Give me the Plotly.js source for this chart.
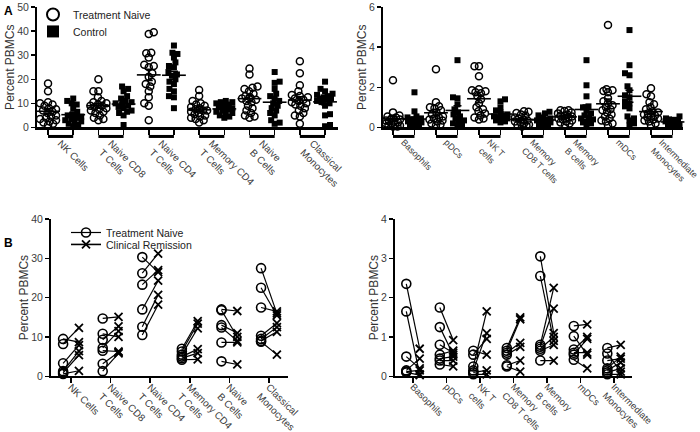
<!DOCTYPE html>
<html>
<head>
<meta charset="utf-8">
<script src="https://cdn.plot.ly/plotly-3.0.1.min.js"></script>
<style>
  html, body { margin: 0; padding: 0; background: #fff; }
  #chart { width: 700px; height: 432px; }
</style>
</head>
<body>
<div id="chart"></div>
<script>
// ---------- Panel A, left: major PBMC populations (% of PBMCs) ----------
const majorCells = ['NK Cells', 'Naive CD8<br>T Cells', 'Naive CD4<br>T Cells',
  'Memory CD4<br>T Cells', 'Naive<br>B Cells', 'Classical<br>Monocytes'];
const majorNaive = [
  [18.2, 15, 10.5, 10, 9.5, 9, 8, 7.5, 7, 6.5, 6, 5, 4.5, 4, 3.5, 3, 2.5, 2, 1.5, 1],
  [20, 15, 15, 12.5, 11, 10.5, 10, 9.5, 9, 9, 8.5, 8, 7.5, 7, 6.5, 6, 5, 4, 3.5, 3],
  [39.5, 38.8, 31, 30.8, 29, 26, 25.5, 25, 22.5, 21, 19, 18, 17, 15, 12.5, 10, 9, 3],
  [15.5, 13, 11, 10, 9.5, 9, 8.5, 8, 7.5, 7, 7, 6.5, 6, 5.5, 5, 4.5, 4, 3.5, 3, 2],
  [24.5, 22, 17, 16.5, 16, 15, 14, 13, 12.5, 12, 11.5, 11, 10.5, 9, 8, 7, 6, 5, 4.5, 4],
  [27.5, 22.5, 17.5, 15, 13.5, 13, 12.5, 12, 11.5, 11, 10.5, 10, 9.5, 9, 8, 7, 6, 5, 4.5, 1.5]
];
const majorControl = [
  [12, 11, 10, 9.5, 8, 6.5, 5.5, 5, 4.5, 4, 3.5, 3, 2.5, 2, 1.5, 1, 0.5],
  [17, 16, 15, 13, 12, 11, 10.5, 10, 9.5, 9, 8.5, 8, 7, 6.5, 6, 5, 1],
  [34, 31, 30.5, 29, 27, 25.5, 25, 23, 22, 21.5, 20, 19, 18, 16, 15, 13, 12.5, 8],
  [11, 10.5, 10.5, 10, 9.5, 9, 8.5, 8, 7.5, 7, 6.5, 6, 5.5, 5, 4.5, 4],
  [23, 19, 18.5, 16, 14, 13, 12, 11, 10, 9, 8, 7, 6, 5, 3, 2, 1.5],
  [19, 16, 15, 14, 13.5, 13, 12.5, 12, 12, 11.5, 11, 10.5, 10, 9, 5.5, 5, 1, 0.5]
];

// ---------- Panel A, right: minor PBMC populations ----------
const minorCells = ['Basophils', 'pDCs', 'NK T<br>cells', 'Memory<br>CD8 T cells',
  'Memory<br>B cells', 'mDCs', 'Intermediate<br>Monocytes'];
const minorNaive = [
  [2.35, 0.75, 0.6, 0.55, 0.5, 0.45, 0.4, 0.35, 0.3, 0.3, 0.25, 0.2, 0.2, 0.15, 0.1, 0.1, 0.05, 0.05],
  [2.9, 1.25, 1.05, 1.0, 0.95, 0.85, 0.75, 0.65, 0.55, 0.5, 0.45, 0.4, 0.35, 0.3, 0.2, 0.15, 0.1],
  [3.05, 3.05, 2.55, 1.9, 1.85, 1.8, 1.75, 1.7, 1.55, 1.4, 1.2, 1.0, 0.9, 0.8, 0.7, 0.6, 0.5, 0.45, 0.4],
  [0.8, 0.78, 0.72, 0.65, 0.6, 0.5, 0.45, 0.4, 0.35, 0.3, 0.25, 0.2, 0.15, 0.12, 0.08, 0.05],
  [0.85, 0.85, 0.82, 0.75, 0.7, 0.65, 0.6, 0.58, 0.55, 0.5, 0.45, 0.4, 0.35, 0.3, 0.25, 0.2, 0.15],
  [5.1, 1.9, 1.85, 1.82, 1.75, 1.45, 1.3, 1.2, 1.1, 1.0, 0.9, 0.85, 0.75, 0.65, 0.55, 0.45, 0.35, 0.3, 0.2, 0.1],
  [1.95, 1.65, 1.55, 1.25, 1.15, 1.0, 0.9, 0.8, 0.75, 0.7, 0.65, 0.6, 0.55, 0.5, 0.45, 0.4, 0.35, 0.3, 0.2, 0.1]
];
const minorControl = [
  [1.75, 0.8, 0.55, 0.5, 0.45, 0.4, 0.35, 0.3, 0.3, 0.25, 0.2, 0.15, 0.1, 0.1, 0.05],
  [3.35, 1.5, 1.45, 1.15, 0.9, 0.75, 0.65, 0.55, 0.45, 0.35, 0.3, 0.2, 0.15, 0.1],
  [1.4, 1.3, 1.0, 0.85, 0.75, 0.65, 0.6, 0.55, 0.5, 0.45, 0.4, 0.35, 0.3, 0.25],
  [0.78, 0.7, 0.6, 0.5, 0.45, 0.4, 0.35, 0.3, 0.25, 0.2, 0.15, 0.1, 0.05],
  [3.35, 2.1, 1.55, 1.05, 1.0, 0.85, 0.7, 0.6, 0.5, 0.45, 0.4, 0.3, 0.25, 0.2, 0.1],
  [4.85, 3.1, 2.7, 2.6, 2.05, 1.85, 1.6, 1.5, 1.3, 1.2, 1.05, 0.95, 0.55, 0.45, 0.35, 0.2, 0.1],
  [0.55, 0.45, 0.4, 0.38, 0.35, 0.3, 0.25, 0.2, 0.15, 0.12, 0.08, 0.05]
];

// ---------- Panel B: paired samples, treatment naive -> clinical remission ----------
const pairedMajorNaive = [
  [9.5, 8.2, 3.3, 1.3, 0.9, 0.6],
  [14.7, 10.8, 9.3, 7.2, 6.5, 3.2, 1.3],
  [30.3, 26.2, 23.3, 17.0, 12.6, 10.5],
  [7.0, 6.3, 5.5, 5.0, 4.6, 4.2],
  [17.0, 16.8, 13.0, 12.4, 8.6, 3.8],
  [27.5, 22.5, 17.5, 10.3, 9.5, 9.0, 8.8]
];
const pairedMajorRemission = [
  [8.7, 12.3, 7.9, 6.4, 5.4, 1.4],
  [15.1, 10.0, 12.7, 11.5, 6.3, 6.1, 5.8],
  [26.5, 31.2, 27.0, 24.3, 20.7, 18.2],
  [14.0, 13.4, 12.2, 6.9, 5.9, 4.3],
  [16.6, 10.0, 11.0, 9.0, 8.6, 3.0],
  [16.0, 15.5, 16.5, 13.5, 12.5, 11.3, 5.5]
];
const pairedMinorNaive = [
  [2.35, 1.65, 0.5, 0.15, 0.12, 0.1],
  [1.75, 1.25, 0.8, 0.55, 0.45, 0.4, 0.3],
  [0.65, 0.55, 0.25, 0.15, 0.1, 0.05],
  [0.72, 0.65, 0.6, 0.55, 0.28, 0.25],
  [3.05, 2.55, 0.8, 0.75, 0.7, 0.65, 0.4],
  [1.28, 1.02, 0.68, 0.6, 0.55, 0.42],
  [0.72, 0.58, 0.4, 0.2, 0.15, 0.1, 0.05]
];
const pairedMinorRemission = [
  [0.7, 0.05, 0.2, 0.45, 0.15, 0.03],
  [0.92, 0.55, 0.6, 0.65, 0.5, 0.4, 0.25],
  [0.55, 0.95, 1.65, 1.1, 0.15, 0.05],
  [1.5, 1.45, 0.85, 0.75, 0.4, 0.12],
  [1.1, 0.9, 2.25, 1.72, 1.0, 0.8, 0.4],
  [1.32, 0.55, 1.0, 0.6, 0.95, 0.2],
  [0.8, 0.12, 0.45, 0.5, 0.35, 0.2, 0.05]
];

// ---------- styling ----------
const SANS = '"Liberation Sans", Arial, sans-serif';
const INK = '#000';
const TEXT = '#3c3c3c';

// Spread overlapping points sideways (pixel units) so every value stays visible.
function swarmOffsets(vals, pxPerY, diam, maxPx) {
  const order = vals.map((v, i) => i).sort((a, b) => vals[a] - vals[b]);
  const placed = [];
  const off = new Array(vals.length).fill(0);
  order.forEach((i, n) => {
    const y = vals[i] * pxPerY;
    let best = 0, bestScore = -1, done = false;
    for (let s = 0; s <= maxPx && !done; s += 0.5) {
      const cands = s === 0 ? [0] : (n % 2 ? [s, -s] : [-s, s]);
      for (const c of cands) {
        let minD = Infinity;
        placed.forEach(p => { minD = Math.min(minD, Math.hypot(p.x - c, p.y - y)); });
        if (minD >= diam) { best = c; done = true; break; }
        if (minD > bestScore) { bestScore = minD; best = c; }
      }
    }
    off[i] = best;
    placed.push({ x: best, y });
  });
  return off;
}

function mean(a) { return a.reduce((s, v) => s + v, 0) / a.length; }
function sem(a) {
  const m = mean(a);
  const sd = Math.sqrt(a.reduce((s, v) => s + (v - m) * (v - m), 0) / (a.length - 1));
  return sd / Math.sqrt(a.length);
}

// Scatter-with-mean columns: group g (0 naive, 1 control) sits at column 2k+g.
function columnTraces(groups, g, axes, scale, marker, extra) {
  const xs = [], ys = [], mx = [], my = [], me = [];
  groups.forEach((vals, k) => {
    const col = 2 * k + g;
    const offs = swarmOffsets(vals, scale.pxPerY, scale.diam, scale.maxPx);
    vals.forEach((v, i) => { xs.push(col + offs[i] / scale.pxPerX); ys.push(v); });
    mx.push(col); my.push(mean(vals)); me.push(sem(vals));
  });
  return [
    Object.assign({
      type: 'scatter', mode: 'markers', x: xs, y: ys, xaxis: axes[0], yaxis: axes[1],
      marker: marker, cliponaxis: false, hoverinfo: 'y'
    }, extra),
    {
      type: 'scatter', mode: 'markers', x: mx, y: my, xaxis: axes[0], yaxis: axes[1],
      showlegend: false, cliponaxis: false, hoverinfo: 'y',
      marker: { symbol: 'line-ew-open', size: 17, color: INK, line: { width: 1.6, color: INK } },
      error_y: { type: 'data', array: me, visible: true, thickness: 1.5, width: 4, color: INK }
    }
  ];
}

// Paired lines: naive at k-0.2, remission at k+0.2.
function pairedTraces(naive, remission, axes, withLegend) {
  const lx = [], ly = [], lc = [], rx = [], ry = [];
  naive.forEach((vals, k) => {
    vals.forEach((v, i) => {
      lx.push(k - 0.2, k + 0.2, null);
      ly.push(v, remission[k][i], null);
      lc.push(INK, 'rgba(0,0,0,0)', 'rgba(0,0,0,0)');
      rx.push(k + 0.2, null);
      ry.push(remission[k][i], null);
    });
  });
  return [
    {
      type: 'scatter', mode: 'lines+markers', name: 'Treatment Naive', x: lx, y: ly,
      xaxis: axes[0], yaxis: axes[1], cliponaxis: false, connectgaps: false,
      showlegend: withLegend, legend: 'legend3',
      line: { color: INK, width: 1.2 },
      marker: { symbol: 'circle-open', size: 9, color: lc, line: { width: 1.6 } }
    },
    {
      type: 'scatter', mode: 'lines+markers', name: 'Clinical Remission', x: rx, y: ry,
      xaxis: axes[0], yaxis: axes[1], cliponaxis: false, connectgaps: false,
      showlegend: withLegend, legend: 'legend4',
      line: { color: INK, width: 1.6 },
      marker: { symbol: 'x-thin-open', size: 8, color: INK, line: { width: 1.8, color: INK } }
    }
  ];
}

const circleMk = { symbol: 'circle-open', size: 7, color: INK, line: { width: 1.5, color: INK } };
const squareMk = { symbol: 'square', size: 6, color: INK };
const scaleMajor = { pxPerY: 2.42, pxPerX: 25.2, diam: 5, maxPx: 8 };
const scaleMinor = { pxPerY: 20.2, pxPerX: 21.5, diam: 4.5, maxPx: 7 };

const traces = [].concat(
  columnTraces(majorNaive, 0, ['x', 'y'], scaleMajor, circleMk,
    { name: 'Treatment Naive', legend: 'legend', showlegend: true }),
  columnTraces(majorControl, 1, ['x', 'y'], scaleMajor, squareMk,
    { name: 'Control', legend: 'legend2', showlegend: true }),
  columnTraces(minorNaive, 0, ['x2', 'y2'], scaleMinor, circleMk,
    { name: 'Treatment Naive', showlegend: false }),
  columnTraces(minorControl, 1, ['x2', 'y2'], scaleMinor, squareMk,
    { name: 'Control', showlegend: false }),
  pairedTraces(pairedMajorNaive, pairedMajorRemission, ['x3', 'y3'], true),
  pairedTraces(pairedMinorNaive, pairedMinorRemission, ['x4', 'y4'], false)
);

const range = (n, step) => Array.from({ length: n }, (_, i) => i * step);
const pairCenters = n => Array.from({ length: n }, (_, k) => 2 * k + 0.5);

const tickFont = { family: SANS, size: 10.5, color: TEXT };
const catFont = { family: SANS, size: 10, color: TEXT };
const catFontMinorA = { family: SANS, size: 9, color: TEXT };
const catFontMinorB = { family: SANS, size: 9.5, color: TEXT };
const titleFont = { family: SANS, size: 12, color: '#333' };

function yAxis(domain, max, step, anchor) {
  return {
    domain, anchor, range: [0, max], tickvals: range(Math.round(max / step) + 1, step),
    ticks: 'outside', ticklen: 4, tickwidth: 1.5, tickcolor: INK, ticklabeloverflow: 'allow',
    showline: true, linewidth: 2, linecolor: INK, showgrid: false, zeroline: false,
    tickfont: tickFont, title: { text: 'Percent PBMCs', font: titleFont, standoff: 0 },
    fixedrange: true
  };
}
function xAxisPairs(domain, rng, labels, anchor, font) {
  return {
    domain, anchor, range: rng, tickvals: pairCenters(labels.length), ticktext: labels,
    ticks: '', tickangle: 45, ticklabelstandoff: 4, tickfont: font, ticklabeloverflow: 'allow',
    minor: { ticks: 'outside', tick0: 0, dtick: 1, ticklen: 5, tickwidth: 1.5, tickcolor: INK },
    showline: true, linewidth: 2.2, linecolor: INK, showgrid: false, zeroline: false, fixedrange: true
  };
}
function xAxisCats(domain, rng, labels, anchor, font) {
  return {
    domain, anchor, range: rng, tickvals: range(labels.length, 1), ticktext: labels,
    ticks: 'outside', ticklen: 5, tickwidth: 1.5, tickcolor: INK, tickangle: 45, tickfont: font,
    ticklabelstandoff: -6, ticklabeloverflow: 'allow',
    showline: true, linewidth: 2.2, linecolor: INK, showgrid: false, zeroline: false, fixedrange: true
  };
}

// Underline bars grouping each naive/control pair
const shapes = [];
[['x', 'y', majorCells.length], ['x2', 'y2', minorCells.length]].forEach(([xr, yr, n]) => {
  for (let k = 0; k < n; k++) {
    shapes.push({ type: 'line', xref: xr, yref: yr + ' domain', x0: 2 * k, x1: 2 * k + 1,
      y0: -0.075, y1: -0.075, line: { color: INK, width: 3 } });
  }
});

const legendBase = {
  xanchor: 'left', yanchor: 'top', bgcolor: 'rgba(0,0,0,0)', borderwidth: 0,
  font: { family: SANS, size: 10.5, color: '#222' }
};

const layout = {
  width: 700, height: 432, margin: { l: 0, r: 0, t: 0, b: 0, pad: 0 },
  paper_bgcolor: '#fff', plot_bgcolor: 'rgba(0,0,0,0)', showlegend: true,
  xaxis: xAxisPairs([0.0529, 0.4829], [-0.437, 11.516], majorCells, 'y', catFont),
  yaxis: yAxis([0.7083, 0.9884], 50, 10, 'x'),
  xaxis2: xAxisPairs([0.5471, 0.9757], [-0.465, 13.488], minorCells, 'y2', catFontMinorA),
  yaxis2: yAxis([0.7083, 0.9884], 6, 2, 'x2'),
  xaxis3: xAxisCats([0.0729, 0.4114], [-0.505, 5.48], majorCells, 'y3', catFont),
  yaxis3: yAxis([0.1296, 0.4954], 40, 10, 'x3'),
  xaxis4: xAxisCats([0.5643, 0.9029], [-0.537, 6.538], minorCells, 'y4', catFontMinorB),
  yaxis4: yAxis([0.1296, 0.4954], 4, 1, 'x4'),
  legend: Object.assign({}, legendBase, { x: 33 / 700, y: 1 + 2 / 432, itemsizing: 'constant' }),
  legend2: Object.assign({}, legendBase, { x: 33 / 700, y: 1 - 15 / 432, itemsizing: 'constant' }),
  legend3: Object.assign({}, legendBase, { x: 66 / 700, y: 1 - 217 / 432 }),
  legend4: Object.assign({}, legendBase, { x: 66 / 700, y: 1 - 229 / 432 }),
  shapes,
  annotations: [
    { text: '<b>A</b>', xref: 'paper', yref: 'paper', x: 2 / 700, y: 1, xanchor: 'left', yanchor: 'top',
      showarrow: false, font: { family: SANS, size: 12, color: INK } },
    { text: '<b>B</b>', xref: 'paper', yref: 'paper', x: 2 / 700, y: 1 - 233 / 432, xanchor: 'left', yanchor: 'top',
      showarrow: false, font: { family: SANS, size: 12, color: INK } }
  ]
};

Plotly.newPlot('chart', traces, layout, { staticPlot: true, displayModeBar: false });
</script>
</body>
</html>
